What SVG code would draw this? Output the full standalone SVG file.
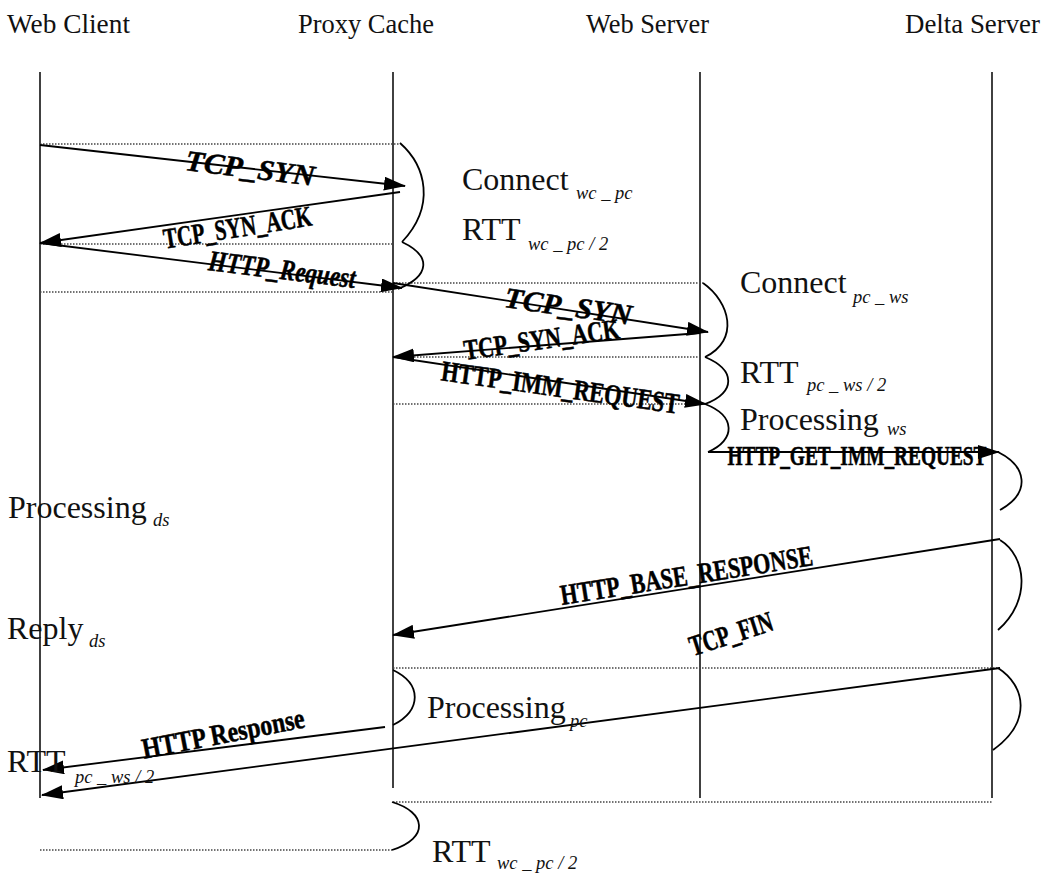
<svg xmlns="http://www.w3.org/2000/svg" width="1045" height="876" viewBox="0 0 1045 876">
  <defs>
    <style>
      .head { font-family: "Liberation Serif", "Times New Roman", serif; font-size: 28px; fill: #111; }
      .lbl { font-family: "Liberation Serif", "Times New Roman", serif; font-size: 32px; fill: #111; }
      .sub { font-family: "Liberation Serif", "Times New Roman", serif; font-size: 18.5px; font-style: italic; fill: #111; }
      .msg { font-family: "Liberation Serif", "Times New Roman", serif; font-size: 29px; font-weight: bold; fill: #000; stroke: #000; stroke-width: 0.5; }
      .msgi { font-family: "Liberation Serif", "Times New Roman", serif; font-size: 29px; font-weight: bold; font-style: italic; fill: #000; stroke: #000; stroke-width: 0.5; }
      .life { stroke: #111; stroke-width: 1.6; fill: none; }
      .dot { stroke: #444; stroke-width: 1.3; stroke-dasharray: 1.5 1.5; fill: none; }
      .arr { stroke: #000; stroke-width: 1.8; fill: none; marker-end: url(#head); }
      .brace { stroke: #000; stroke-width: 1.8; fill: none; }
    </style>
    <marker id="head" markerWidth="22" markerHeight="14" refX="21" refY="7" orient="auto" markerUnits="userSpaceOnUse">
      <path d="M0,0 L22,7 L0,14 z" fill="#000"/>
    </marker>
  </defs>
  <rect width="1045" height="876" fill="#fff"/>

  <!-- participants with lifelines -->
  <g id="web-client">
    <text class="head" x="7" y="33" textLength="123" lengthAdjust="spacingAndGlyphs">Web Client</text>
    <line class="life" x1="40" y1="72" x2="40" y2="798"/>
  </g>
  <g id="proxy-cache">
    <text class="head" x="298" y="33" textLength="136" lengthAdjust="spacingAndGlyphs">Proxy Cache</text>
    <line class="life" x1="393" y1="72" x2="393" y2="788"/>
  </g>
  <g id="web-server">
    <text class="head" x="586" y="33" textLength="123" lengthAdjust="spacingAndGlyphs">Web Server</text>
    <line class="life" x1="700" y1="72" x2="700" y2="798"/>
  </g>
  <g id="delta-server">
    <text class="head" x="905" y="33" textLength="135" lengthAdjust="spacingAndGlyphs">Delta Server</text>
    <line class="life" x1="992" y1="72" x2="992" y2="798"/>
  </g>

  <!-- dotted interval guides -->
  <g id="guides">
    <line class="dot" x1="40" y1="144" x2="400" y2="144"/>
    <line class="dot" x1="40" y1="244" x2="393" y2="244"/>
    <line class="dot" x1="40" y1="292" x2="393" y2="292"/>
    <line class="dot" x1="393" y1="283" x2="703" y2="283"/>
    <line class="dot" x1="393" y1="357" x2="700" y2="357"/>
    <line class="dot" x1="393" y1="404" x2="700" y2="404"/>
    <line class="dot" x1="393" y1="668" x2="1000" y2="668"/>
    <line class="dot" x1="393" y1="802" x2="992" y2="802"/>
    <line class="dot" x1="40" y1="850" x2="392" y2="850"/>
  </g>

  <!-- interval braces -->
  <g id="braces">
    <path class="brace" d="M400,143 C426,166 436,206 402,242"/>
    <path class="brace" d="M402,242 C432,256 430,276 398,289"/>
    <path class="brace" d="M703,283 C730,302 740,340 705,357"/>
    <path class="brace" d="M705,357 C736,370 736,392 705,404"/>
    <path class="brace" d="M705,404 C736,416 736,440 708,452"/>
    <path class="brace" d="M998,452 C1026,466 1032,492 1000,510"/>
    <path class="brace" d="M1000,540 C1026,556 1032,600 998,630"/>
    <path class="brace" d="M998,668 C1026,686 1032,722 993,750"/>
    <path class="brace" d="M393,670 C422,684 422,710 393,725"/>
    <path class="brace" d="M392,802 C426,812 430,838 392,850"/>
  </g>

  <!-- messages -->
  <g id="connectors">
    <line class="arr" x1="40" y1="145" x2="405" y2="186"/>
    <line class="arr" x1="400" y1="192" x2="40" y2="243"/>
    <line class="arr" x1="40" y1="243" x2="402" y2="288"/>
    <line class="arr" x1="393" y1="283" x2="708" y2="332"/>
    <line class="arr" x1="700" y1="333" x2="393" y2="357"/>
    <line class="arr" x1="393" y1="357" x2="706" y2="404"/>
    <line class="arr" x1="708" y1="452" x2="999" y2="452"/>
    <line class="arr" x1="1000" y1="539" x2="393" y2="635"/>
    <line class="arr" x1="1000" y1="668" x2="42" y2="795"/>
    <line class="arr" x1="385" y1="727" x2="43" y2="770"/>
  </g>

  <!-- message labels -->
  <g id="message-labels">
    <text class="msgi" text-anchor="middle" transform="translate(249,178) rotate(7)" textLength="130" lengthAdjust="spacingAndGlyphs">TCP_SYN</text>
    <text class="msg" text-anchor="middle" transform="translate(239,237) rotate(-9)" textLength="150" lengthAdjust="spacingAndGlyphs">TCP_SYN_ACK</text>
    <text class="msgi" text-anchor="middle" transform="translate(281,279) rotate(7)" textLength="148" lengthAdjust="spacingAndGlyphs">HTTP_Request</text>
    <text class="msgi" text-anchor="middle" transform="translate(567,316) rotate(8)" textLength="128" lengthAdjust="spacingAndGlyphs">TCP_SYN</text>
    <text class="msg" text-anchor="middle" transform="translate(543,349) rotate(-8)" textLength="157" lengthAdjust="spacingAndGlyphs">TCP_SYN_ACK</text>
    <text class="msg" text-anchor="middle" transform="translate(559,397) rotate(8)" textLength="240" lengthAdjust="spacingAndGlyphs">HTTP_IMM_REQUEST</text>
    <text class="msg" text-anchor="middle" x="857" y="465" style="font-size:27px" textLength="259" lengthAdjust="spacingAndGlyphs">HTTP_GET_IMM_REQUEST</text>
    <text class="msg" text-anchor="middle" transform="translate(688,585) rotate(-9)" textLength="255" lengthAdjust="spacingAndGlyphs">HTTP_BASE_RESPONSE</text>
    <text class="msg" text-anchor="middle" transform="translate(734,643) rotate(-18)" textLength="86" lengthAdjust="spacingAndGlyphs">TCP_FIN</text>
    <text class="msg" text-anchor="middle" transform="translate(225,743) rotate(-11)" textLength="165" lengthAdjust="spacingAndGlyphs">HTTP Response</text>
  </g>

  <!-- interval labels -->
  <g id="interval-labels">
    <text class="lbl" x="462" y="190">Connect</text>
    <text class="sub" x="576" y="199">wc _ pc</text>
    <text class="lbl" x="462" y="240">RTT</text>
    <text class="sub" x="528" y="250">wc _ pc / 2</text>

    <text class="lbl" x="740" y="293">Connect</text>
    <text class="sub" x="853" y="303">pc _ ws</text>
    <text class="lbl" x="740" y="383">RTT</text>
    <text class="sub" x="807" y="391">pc _ ws / 2</text>
    <text class="lbl" x="740" y="430">Processing</text>
    <text class="sub" x="887" y="435">ws</text>

    <text class="lbl" x="8" y="518">Processing</text>
    <text class="sub" x="153" y="526">ds</text>
    <text class="lbl" x="7" y="639">Reply</text>
    <text class="sub" x="89" y="647">ds</text>

    <text class="lbl" x="427" y="718">Processing</text>
    <text class="sub" x="570" y="727">pc</text>
    <text class="lbl" x="7" y="772">RTT</text>
    <text class="sub" x="75" y="783">pc _ ws / 2</text>
    <text class="lbl" x="432" y="862">RTT</text>
    <text class="sub" x="497" y="869">wc _ pc / 2</text>
  </g>
</svg>
